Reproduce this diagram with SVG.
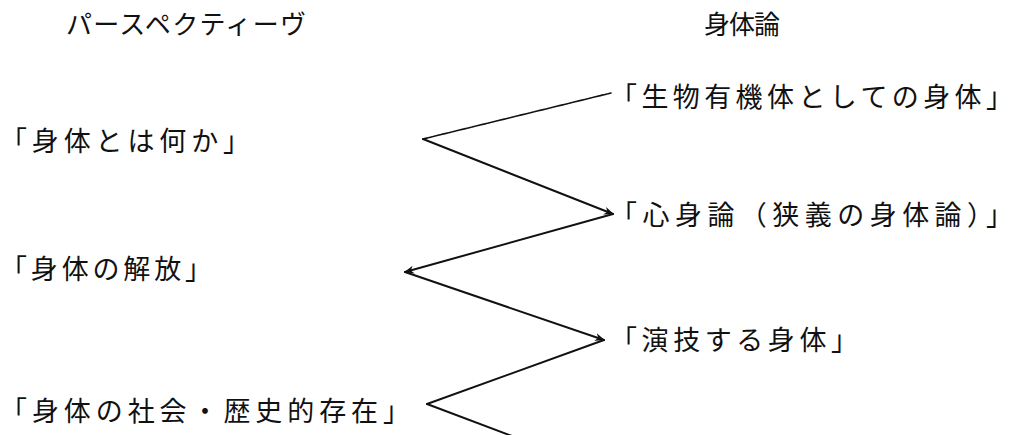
<svg xmlns="http://www.w3.org/2000/svg" width="1013" height="435" viewBox="0 0 1013 435">
  <style>
    .t { font-family: "Noto Sans CJK JP", "Noto Sans CJK SC", sans-serif; font-size: 27px; fill: #111; }
    .h { font-family: "Noto Sans CJK JP", "Noto Sans CJK SC", sans-serif; font-size: 26px; fill: #111; }
    .c { stroke: #111; stroke-width: 2; fill: none; stroke-linecap: round; }
    .thin { stroke-width: 1.6; stroke-dasharray: 3 1; }
  </style>
  <defs>
    <marker id="ah" viewBox="0 0 10 10" refX="9" refY="5" markerWidth="5" markerHeight="5" orient="auto" markerUnits="strokeWidth">
      <path d="M0,1 L10,5 L0,9 L3,5 Z" fill="#111"/>
    </marker>
  </defs>
  <rect width="1013" height="435" fill="#fff"/>

  <g id="header-perspective"><text class="h" x="66" y="34" textLength="240" lengthAdjust="spacing">パースペクティーヴ</text></g>
  <g id="header-body-theory"><text class="h" x="704" y="34" textLength="76" lengthAdjust="spacing">身体論</text></g>

  <g id="p1"><text class="t" x="0" y="151" textLength="250" lengthAdjust="spacing">「身体とは何か」</text></g>
  <g id="p2"><text class="t" x="0" y="279" textLength="212" lengthAdjust="spacing">「身体の解放」</text></g>
  <g id="p3"><text class="t" x="0" y="421" textLength="410" lengthAdjust="spacing">「身体の社会・歴史的存在」</text></g>

  <g id="b1"><text class="t" x="610" y="107" textLength="403" lengthAdjust="spacing">「生物有機体としての身体」</text></g>
  <g id="b2"><text class="t" x="610" y="225" textLength="403" lengthAdjust="spacing">「心身論（狭義の身体論）」</text></g>
  <g id="b3"><text class="t" x="610" y="350" textLength="248" lengthAdjust="spacing">「演技する身体」</text></g>

  <g id="connectors">
    <line class="c thin" x1="611" y1="93" x2="423" y2="139"/>
    <line class="c" x1="423" y1="139" x2="613" y2="214" marker-end="url(#ah)"/>
    <line class="c" x1="613" y1="214" x2="405" y2="272" marker-end="url(#ah)"/>
    <line class="c" x1="405" y1="272" x2="604" y2="340" marker-end="url(#ah)"/>
    <line class="c" x1="604" y1="340" x2="427" y2="404"/>
    <line class="c" x1="427" y1="404" x2="512" y2="436"/>
  </g>
</svg>
